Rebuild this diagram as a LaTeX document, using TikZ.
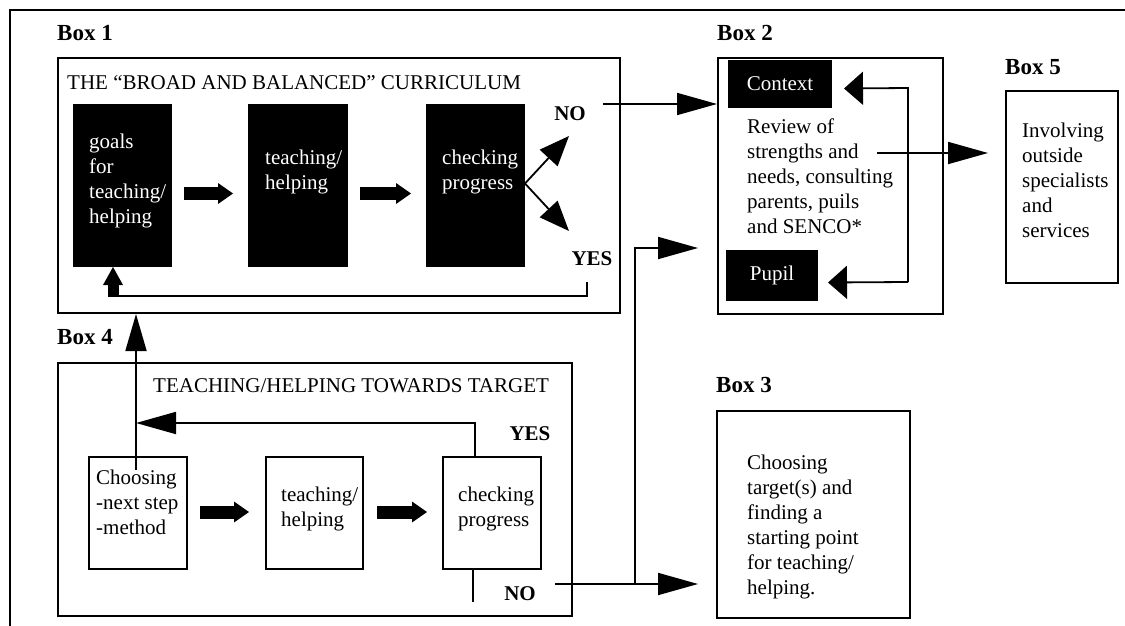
\documentclass[tikz,border=0pt]{standalone}
\usepackage{fontspec}
\setmainfont{Liberation Serif}
\usetikzlibrary{arrows.meta,calc}
\begin{document}
\begin{tikzpicture}[x=1pt,y=-1pt,
  bodyfont/.style={font=\fontsize{21}{25}\selectfont},
  lbl/.style={font=\fontsize{23}{27}\selectfont\bfseries, anchor=base west, inner sep=0},
  yn/.style={font=\fontsize{21}{25}\selectfont\bfseries, anchor=base, inner sep=0},
  frame/.style={draw, line width=2pt, anchor=north west, inner sep=0},
  blk/.style={fill=black, draw=black, line width=1pt, anchor=north west, inner sep=0,
              text=white, font=\fontsize{21}{25}\selectfont},
  wbox/.style={draw, line width=2pt, anchor=north west, inner sep=0},
  txt/.style={bodyfont, anchor=north west, align=left, inner sep=0, execute at begin node=\strut},
  wtxt/.style={txt, text=white},
  thin/.style={line width=1.8pt},
  bighead/.style={-{Triangle[length=40pt,width=22pt]}},
  midhead/.style={-{Triangle[length=30pt,width=24pt]}},
  widehead/.style={-{Triangle[length=19pt,width=33pt]}},
  blockarrow/.style={line width=13pt, -{Triangle[length=15pt,width=21pt,line width=0pt]}},
  blockup/.style={line width=11pt, -{Triangle[length=18pt,width=20pt,line width=0pt]}}
]
\useasboundingbox (0,0) rectangle (1125,626);
\draw[line width=2pt] (10,626) -- (10,10) -- (1125,10);

% ---------- Box 1 ----------
\node[lbl] (lb1) at (57,40.5) {Box 1};
\node[frame, minimum width=562pt, minimum height=255pt] (box1) at (57,57) {};
\node[bodyfont, anchor=base west, inner sep=0] (title1) at (67,89) {THE “BROAD AND BALANCED” CURRICULUM};
\node[blk, minimum width=98pt, minimum height=162pt] (goals) at (73,104) {};
\node[blk, minimum width=99pt, minimum height=162pt] (teach1) at (248,104) {};
\node[blk, minimum width=98pt, minimum height=162pt] (check1) at (426,104) {};
\node[wtxt] (goalsT) at (89,133.5) {goals\\for\\teaching/\\helping};
\node[wtxt] (teach1T) at (265,149.5) {teaching/\\helping};
\node[wtxt] (check1T) at (442,149.5) {checking\\progress};
\draw[blockarrow] ($(goals.east)+(12,8)$) -- ($(teach1.west)+(-15,8)$);
\draw[blockarrow] ($(teach1.east)+(12,8)$) -- ($(check1.west)+(-15,8)$);
\node[yn] (no1) at (570,121) {NO};
\node[yn] (yes1) at (592,265) {YES};
\coordinate (noTip) at (569,136);
\coordinate (yesTip) at (569,231);
\draw[thin, midhead] ($(check1.east)+(0,-2)$) -- (noTip);
\draw[thin, midhead] ($(check1.east)+(0,-2)$) -- (yesTip);
\coordinate (loopR) at (587,282);
\coordinate (loopL) at (113,296);
\draw[thin] (loopR) -- (loopR |- loopL) -- (loopL);
\draw[blockup] ($(loopL)+(0,1)$) -- (loopL |- goals.south);

% ---------- Box 2 ----------
\node[lbl] (lb2) at (717,40.5) {Box 2};
\node[frame, minimum width=225pt, minimum height=256pt] (box2) at (717,57) {};
\node[blk, minimum width=103pt, minimum height=47pt] (context) at (728,60) {Context};
\node[blk, minimum width=91pt, minimum height=50pt] (pupil) at (726,250) {Pupil};
\node[txt] (review) at (747,118.5) {Review of\\strengths and\\needs, consulting\\parents, puils\\and SENCO*};
\coordinate (brT) at (908,88);
\coordinate (brB) at (908,282);
\draw[thin, widehead] (brB) -- (brT) -- ($(context.east)+(12,4.5)$);
\draw[thin, widehead] (brB) -- ($(pupil.east)+(10,7)$);
\coordinate (noStart) at (603,104);
\draw[thin, bighead] (noStart) -- (box2.west |- noStart);

% ---------- Box 5 ----------
\node[lbl] (lb5) at (1005,74.5) {Box 5};
\node[frame, minimum width=112pt, minimum height=192pt] (box5) at (1005,90) {};
\node[txt] (box5T) at (1022,122.5) {Involving\\outside\\specialists\\and\\services};
\coordinate (rv) at (877,153);
\draw[thin, bighead] (rv) -- ($(box5.west |- rv)+(-17,0)$);

% ---------- Box 4 ----------
\node[lbl] (lb4) at (57,344.5) {Box 4};
\node[frame, minimum width=514pt, minimum height=253pt] (box4) at (57,362) {};
\node[bodyfont, anchor=base west, inner sep=0] (title4) at (153,392) {TEACHING/HELPING TOWARDS TARGET};
\node[wbox, minimum width=98pt, minimum height=112pt] (choose) at (88,456) {};
\node[wbox, minimum width=97pt, minimum height=112pt] (teach2) at (265,456) {};
\node[wbox, minimum width=98pt, minimum height=112pt] (check2) at (442,456) {};
\node[txt] (chooseT) at (96,469.5) {Choosing\\-next step\\-method};
\node[txt] (teach2T) at (281,486.5) {teaching/\\helping};
\node[txt] (check2T) at (458,486.5) {checking\\progress};
\draw[blockarrow] ($(choose.east)+(12,-1)$) -- ($(teach2.west)+(-16,-1)$);
\draw[blockarrow] ($(teach2.east)+(13,-1)$) -- ($(check2.west)+(-15,-1)$);
\coordinate (upStart) at (136,470);
\draw[thin, -{Triangle[length=37pt,width=21pt]}] (upStart) -- (upStart |- box1.south);
\coordinate (yl) at (475,423);
\draw[thin, bighead] (yl |- check2.north) -- (yl) -- (yl -| upStart);
\node[yn] (yes4) at (530,440) {YES};
\coordinate (noBot) at (473,602);
\draw[thin] (noBot |- check2.south) -- (noBot);
\node[yn] (no4) at (520,600) {NO};

% ---------- Box 3 ----------
\node[lbl] (lb3) at (716,392.5) {Box 3};
\node[frame, minimum width=193pt, minimum height=207pt] (box3) at (716,410) {};
\node[txt] (box3T) at (747,454.5) {Choosing\\target(s) and\\finding a\\starting point\\for teaching/\\helping.};
\coordinate (nS) at (555,584);
\coordinate (jn) at (635,584);
\coordinate (yTop) at (635,248);
\draw[thin, bighead] (nS) -- ($(box3.west |- nS)+(-18,0)$);
\draw[thin, bighead] (jn) -- (yTop) -- ($(box2.west |- yTop)+(-19,0)$);
\end{tikzpicture}
\end{document}
